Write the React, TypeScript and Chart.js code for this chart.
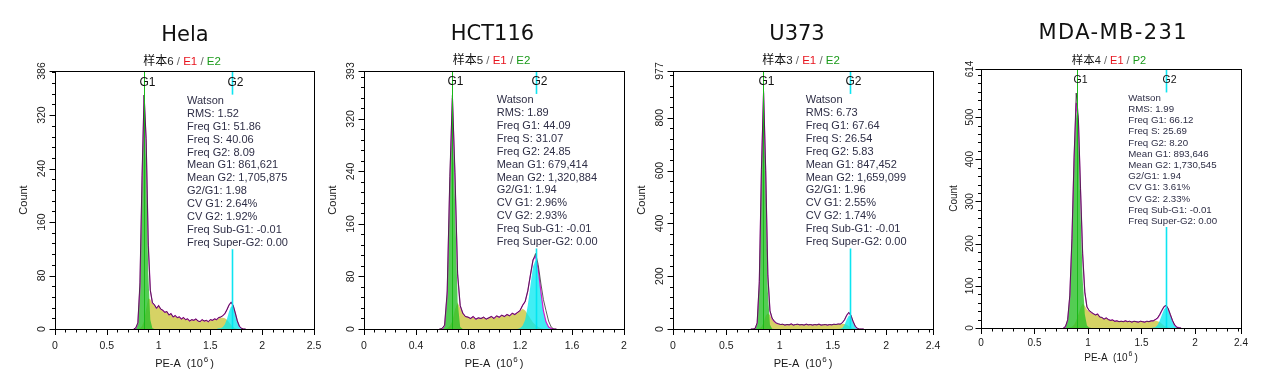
import React, { useEffect, useRef } from "react";
import { Chart, registerables } from "chart.js";

Chart.register(...registerables);

/* ======================= DATA ======================= */

/* ---- Hela ---- */
const helaBins = [
  0.76, 0.78, 0.80, 0.82, 0.84, 0.86, 0.88, 0.90, 0.92, 0.94,
  0.96, 0.98, 1.00, 1.02, 1.04, 1.06, 1.08, 1.10, 1.12, 1.14,
  1.16, 1.18, 1.20, 1.22, 1.24, 1.26, 1.28, 1.30, 1.32, 1.34,
  1.36, 1.38, 1.40, 1.42, 1.44, 1.46, 1.48, 1.50, 1.52, 1.54,
  1.56, 1.58, 1.60, 1.62, 1.64, 1.66, 1.68, 1.70, 1.72, 1.74,
  1.76, 1.78, 1.80, 1.82, 1.84,
];
const helaCounts = [
  0, 2, 10, 70, 230, 350, 285, 125, 58, 40,
  36, 31, 35, 30, 28, 25, 26, 21, 23, 18,
  20, 17, 18, 15, 17, 14, 15, 12, 14, 13,
  15, 12, 11, 14, 12, 13, 11, 14, 13, 15,
  14, 17, 18, 20, 23, 29, 36, 40, 35, 24,
  12, 4, 1, 0, 0,
];
const helaG1Fit = [
  0, 1, 8, 62, 212, 338, 248, 84, 14, 1,
  0, 0, 0, 0, 0, 0, 0, 0, 0, 0,
  0, 0, 0, 0, 0, 0, 0, 0, 0, 0,
  0, 0, 0, 0, 0, 0, 0, 0, 0, 0,
  0, 0, 0, 0, 0, 0, 0, 0, 0, 0,
  0, 0, 0, 0, 0,
];
const helaSFit = [
  0, 0, 0, 1, 4, 12, 30, 46, 44, 38,
  36, 31, 35, 30, 28, 25, 26, 21, 23, 18,
  20, 17, 18, 15, 17, 14, 15, 12, 14, 13,
  15, 12, 11, 14, 12, 13, 11, 14, 13, 15,
  14, 16, 17, 17, 16, 14, 10, 6, 3, 1,
  0, 0, 0, 0, 0,
];
const helaG2Fit = [
  0, 0, 0, 0, 0, 0, 0, 0, 0, 0,
  0, 0, 0, 0, 0, 0, 0, 0, 0, 0,
  0, 0, 0, 0, 0, 0, 0, 0, 0, 0,
  0, 0, 0, 0, 0, 0, 0, 0, 0, 0,
  0, 1, 1, 3, 7, 15, 26, 34, 32, 23,
  12, 4, 1, 0, 0,
];
const helaMeans = [0.861621, 1.705875];
const helaStats = [
  "Watson", "RMS: 1.52", "Freq G1: 51.86", "Freq S: 40.06", "Freq G2: 8.09",
  "Mean G1: 861,621", "Mean G2: 1,705,875", "G2/G1: 1.98", "CV G1: 2.64%",
  "CV G2: 1.92%", "Freq Sub-G1: -0.01", "Freq Super-G2: 0.00",
];
const helaXTicks = [0, 0.5, 1, 1.5, 2, 2.5];
const helaXTickLabels = ["0", "0.5", "1", "1.5", "2", "2.5"];
const helaYTicks = [0, 80, 160, 240, 320, 386];
const helaYTickLabels = ["0", "80", "160", "240", "320", "386"];

/* ---- HCT116 ---- */
const hctBins = [
  0.58, 0.60, 0.62, 0.64, 0.66, 0.68, 0.70, 0.72, 0.74, 0.76,
  0.78, 0.80, 0.82, 0.84, 0.86, 0.88, 0.90, 0.92, 0.94, 0.96,
  0.98, 1.00, 1.02, 1.04, 1.06, 1.08, 1.10, 1.12, 1.14, 1.16,
  1.18, 1.20, 1.22, 1.24, 1.26, 1.28, 1.30, 1.32, 1.34, 1.36,
  1.38, 1.40, 1.42, 1.44, 1.46, 1.48,
];
const hctCounts = [
  0, 1, 6, 58, 232, 356, 238, 85, 36, 24,
  19, 18, 16, 19, 15, 17, 16, 18, 15, 17,
  19, 16, 20, 18, 21, 19, 22, 20, 24, 22,
  25, 28, 36, 42, 58, 82, 105, 115, 98, 70,
  45, 28, 12, 3, 0, 0,
];
const hctG1Fit = [
  0, 0, 5, 52, 217, 340, 197, 42, 3, 0,
  0, 0, 0, 0, 0, 0, 0, 0, 0, 0,
  0, 0, 0, 0, 0, 0, 0, 0, 0, 0,
  0, 0, 0, 0, 0, 0, 0, 0, 0, 0,
  0, 0, 0, 0, 0, 0,
];
const hctSFit = [
  0, 0, 0, 1, 4, 12, 30, 40, 32, 24,
  19, 18, 16, 19, 15, 17, 16, 18, 15, 17,
  19, 16, 20, 18, 21, 19, 22, 20, 24, 22,
  25, 27, 31, 28, 22, 16, 10, 6, 3, 1,
  0, 0, 0, 0, 0, 0,
];
const hctG2Fit = [
  0, 0, 0, 0, 0, 0, 0, 0, 0, 0,
  0, 0, 0, 0, 0, 0, 0, 0, 0, 0,
  0, 0, 0, 0, 0, 0, 0, 0, 0, 0,
  0, 1, 5, 14, 36, 66, 95, 105, 88, 57,
  28, 11, 3, 1, 0, 0,
];
const hctMeans = [0.679414, 1.320884];
const hctStats = [
  "Watson", "RMS: 1.89", "Freq G1: 44.09", "Freq S: 31.07", "Freq G2: 24.85",
  "Mean G1: 679,414", "Mean G2: 1,320,884", "G2/G1: 1.94", "CV G1: 2.96%",
  "CV G2: 2.93%", "Freq Sub-G1: -0.01", "Freq Super-G2: 0.00",
];
const hctXTicks = [0, 0.4, 0.8, 1.2, 1.6, 2];
const hctXTickLabels = ["0", "0.4", "0.8", "1.2", "1.6", "2"];
const hctYTicks = [0, 80, 160, 240, 320, 393];
const hctYTickLabels = ["0", "80", "160", "240", "320", "393"];

/* ---- U373 ---- */
const u373Bins = [
  0.73, 0.75, 0.77, 0.79, 0.81, 0.83, 0.85, 0.87, 0.89, 0.91,
  0.93, 0.95, 0.97, 0.99, 1.01, 1.03, 1.05, 1.07, 1.09, 1.11,
  1.13, 1.15, 1.17, 1.19, 1.21, 1.23, 1.25, 1.27, 1.29, 1.31,
  1.33, 1.35, 1.37, 1.39, 1.41, 1.43, 1.45, 1.47, 1.49, 1.51,
  1.53, 1.55, 1.57, 1.59, 1.61, 1.63, 1.65, 1.67, 1.69, 1.71,
  1.73, 1.75, 1.77, 1.79,
];
const u373Counts = [
  0, 0, 2, 24, 180, 605, 900, 600, 205, 70,
  42, 30, 23, 20, 17, 18, 15, 17, 16, 19,
  15, 17, 18, 16, 17, 15, 18, 16, 17, 15,
  17, 16, 18, 15, 16, 17, 15, 17, 16, 18,
  17, 19, 18, 24, 35, 52, 63, 52, 29, 11,
  3, 0, 0, 0,
];
const u373G1Fit = [
  0, 0, 1, 21, 170, 590, 870, 542, 143, 16,
  1, 0, 0, 0, 0, 0, 0, 0, 0, 0,
  0, 0, 0, 0, 0, 0, 0, 0, 0, 0,
  0, 0, 0, 0, 0, 0, 0, 0, 0, 0,
  0, 0, 0, 0, 0, 0, 0, 0, 0, 0,
  0, 0, 0, 0,
];
const u373SFit = [
  0, 0, 0, 0, 2, 8, 25, 50, 60, 52,
  38, 28, 22, 19, 17, 18, 15, 17, 16, 19,
  15, 17, 18, 16, 17, 15, 18, 16, 17, 15,
  17, 16, 18, 15, 16, 17, 15, 17, 16, 18,
  17, 19, 18, 20, 19, 16, 11, 6, 3, 1,
  0, 0, 0, 0,
];
const u373G2Fit = [
  0, 0, 0, 0, 0, 0, 0, 0, 0, 0,
  0, 0, 0, 0, 0, 0, 0, 0, 0, 0,
  0, 0, 0, 0, 0, 0, 0, 0, 0, 0,
  0, 0, 0, 0, 0, 0, 0, 0, 0, 0,
  0, 0, 1, 4, 16, 36, 51, 45, 25, 9,
  2, 0, 0, 0,
];
const u373Means = [0.847452, 1.659099];
const u373Stats = [
  "Watson", "RMS: 6.73", "Freq G1: 67.64", "Freq S: 26.54", "Freq G2: 5.83",
  "Mean G1: 847,452", "Mean G2: 1,659,099", "G2/G1: 1.96", "CV G1: 2.55%",
  "CV G2: 1.74%", "Freq Sub-G1: -0.01", "Freq Super-G2: 0.00",
];
const u373XTicks = [0, 0.5, 1, 1.5, 2, 2.44];
const u373XTickLabels = ["0", "0.5", "1", "1.5", "2", "2.4"];
const u373YTicks = [0, 200, 400, 600, 800, 977];
const u373YTickLabels = ["0", "200", "400", "600", "800", "977"];

/* ---- MDA-MB-231 ---- */
const mdaBins = [
  0.77, 0.79, 0.81, 0.83, 0.85, 0.87, 0.89, 0.91, 0.93, 0.95,
  0.97, 0.99, 1.01, 1.03, 1.05, 1.07, 1.09, 1.11, 1.13, 1.15,
  1.17, 1.19, 1.21, 1.23, 1.25, 1.27, 1.29, 1.31, 1.33, 1.35,
  1.37, 1.39, 1.41, 1.43, 1.45, 1.47, 1.49, 1.51, 1.53, 1.55,
  1.57, 1.59, 1.61, 1.63, 1.65, 1.67, 1.69, 1.71, 1.73, 1.75,
  1.77, 1.79, 1.81, 1.83, 1.85, 1.87,
];
const mdaCounts = [
  0, 4, 20, 78, 212, 405, 557, 500, 330, 176,
  86, 50, 42, 38, 34, 31, 33, 26, 25, 21,
  24, 20, 18, 19, 16, 17, 15, 16, 15, 17,
  15, 16, 14, 16, 15, 14, 16, 15, 14, 16,
  15, 17, 17, 20, 24, 32, 42, 51, 54, 46,
  32, 18, 7, 2, 0, 0,
];
const mdaG1Fit = [
  0, 3, 18, 73, 206, 395, 516, 460, 281, 116,
  33, 6, 1, 0, 0, 0, 0, 0, 0, 0,
  0, 0, 0, 0, 0, 0, 0, 0, 0, 0,
  0, 0, 0, 0, 0, 0, 0, 0, 0, 0,
  0, 0, 0, 0, 0, 0, 0, 0, 0, 0,
  0, 0, 0, 0, 0, 0,
];
const mdaSFit = [
  0, 0, 0, 1, 3, 8, 18, 32, 48, 58,
  52, 44, 40, 37, 34, 31, 33, 26, 25, 21,
  24, 20, 18, 19, 16, 17, 15, 16, 15, 17,
  15, 16, 14, 16, 15, 14, 16, 15, 14, 16,
  15, 17, 16, 18, 16, 14, 10, 6, 3, 1,
  0, 0, 0, 0, 0, 0,
];
const mdaG2Fit = [
  0, 0, 0, 0, 0, 0, 0, 0, 0, 0,
  0, 0, 0, 0, 0, 0, 0, 0, 0, 0,
  0, 0, 0, 0, 0, 0, 0, 0, 0, 0,
  0, 0, 0, 0, 0, 0, 0, 0, 0, 0,
  0, 0, 1, 2, 7, 17, 31, 44, 50, 44,
  31, 17, 7, 2, 1, 0,
];
const mdaMeans = [0.893646, 1.730545];
const mdaStats = [
  "Watson", "RMS: 1.99", "Freq G1: 66.12", "Freq S: 25.69", "Freq G2: 8.20",
  "Mean G1: 893,646", "Mean G2: 1,730,545", "G2/G1: 1.94", "CV G1: 3.61%",
  "CV G2: 2.33%", "Freq Sub-G1: -0.01", "Freq Super-G2: 0.00",
];
const mdaXTicks = [0, 0.5, 1, 1.5, 2, 2.43];
const mdaXTickLabels = ["0", "0.5", "1", "1.5", "2", "2.4"];
const mdaYTicks = [0, 100, 200, 300, 400, 500, 614];
const mdaYTickLabels = ["0", "100", "200", "300", "400", "500", "614"];

/* ---- shared labels ---- */
const TITLES = ["Hela", "HCT116", "U373", "MDA-MB-231"];
const SAMPLE_NUMBERS = ["6", "5", "3", "4"];
const GATE_NAMES = [["E1", "E2"], ["E1", "E2"], ["E1", "E2"], ["E1", "P2"]];
const MARKER_LABELS = ["G1", "G2"];
const X_MAX = [2.5, 2, 2.44, 2.43];
const Y_MAX = [386, 393, 977, 614];
const X_AXIS_TITLE = "PE-A";
const X_AXIS_UNIT_BASE = "(10";
const X_AXIS_UNIT_EXP = "6";
const Y_AXIS_TITLE = "Count";
const SAMPLE_WORD = "样本";

/* ======================= STYLE / LAYOUT ======================= */
const SANS = '"Liberation Sans", Arial, sans-serif';
const TITLE_FONT = '"DejaVu Sans", sans-serif';
const CJK = '"Noto Sans CJK SC", sans-serif';

type Layout = {
  cx: number; cw: number; L: number; R: number; T: number; B: number;
  titleX: number; titleY: number; titleSize: number; titleSpacing: number;
  subX: number; subY: number; subSize: number;
  gY: number; gSize: number;
  statX: number; statY: number; statStep: number; statSize: number;
  yLabX: number; countX: number; tickSize: number;
  xLabY: number; xTitleY: number; axisSize: number;
  xMinor: number; yMinor: number;
};

const LAYOUTS: Layout[] = [
  { cx: 0, cw: 330, L: 55, R: 314, T: 71, B: 329,
    titleX: 185, titleY: 40.5, titleSize: 21, titleSpacing: 0,
    subX: 182, subY: 64.5, subSize: 11.5, gY: 86, gSize: 12,
    statX: 187, statY: 104, statStep: 12.88, statSize: 11,
    yLabX: 45, countX: 26.7, tickSize: 10.5, xLabY: 349.3, xTitleY: 366.7, axisSize: 11,
    xMinor: 0.1, yMinor: 16 },
  { cx: 316, cw: 324, L: 364, R: 624, T: 71, B: 329,
    titleX: 492.5, titleY: 39.5, titleSize: 21, titleSpacing: 0,
    subX: 491.5, subY: 64, subSize: 11.5, gY: 85, gSize: 12,
    statX: 496.7, statY: 103.3, statStep: 12.88, statSize: 11,
    yLabX: 354, countX: 336, tickSize: 10.5, xLabY: 349, xTitleY: 366.7, axisSize: 11,
    xMinor: 0.08, yMinor: 16 },
  { cx: 626, cw: 324, L: 673, R: 933, T: 71, B: 329,
    titleX: 797, titleY: 39.5, titleSize: 21, titleSpacing: 0,
    subX: 801, subY: 64, subSize: 11.5, gY: 85, gSize: 12,
    statX: 805.7, statY: 103.3, statStep: 12.88, statSize: 11,
    yLabX: 663.3, countX: 645, tickSize: 10.5, xLabY: 349, xTitleY: 366.7, axisSize: 11,
    xMinor: 0.1, yMinor: 40 },
  { cx: 936, cw: 332, L: 981, R: 1241, T: 69, B: 328,
    titleX: 1112.5, titleY: 39.3, titleSize: 21, titleSpacing: 1.4,
    subX: 1109, subY: 64, subSize: 11, gY: 82.7, gSize: 10.5,
    statX: 1128.3, statY: 100.7, statStep: 11.2, statSize: 9.7,
    yLabX: 973.3, countX: 957.3, tickSize: 10, xLabY: 345.7, xTitleY: 360.7, axisSize: 10,
    xMinor: 0.1, yMinor: 20 },
];

type PanelData = {
  bins: number[]; counts: number[]; g1: number[]; s: number[]; g2: number[];
  means: number[]; stats: string[];
  xTicks: number[]; xTickLabels: string[]; yTicks: number[]; yTickLabels: string[];
  title: string; sample: string; gates: string[]; xMax: number; yMax: number;
};

const PANELS: PanelData[] = [
  { bins: helaBins, counts: helaCounts, g1: helaG1Fit, s: helaSFit, g2: helaG2Fit,
    means: helaMeans, stats: helaStats, xTicks: helaXTicks, xTickLabels: helaXTickLabels,
    yTicks: helaYTicks, yTickLabels: helaYTickLabels, title: TITLES[0], sample: SAMPLE_NUMBERS[0],
    gates: GATE_NAMES[0], xMax: X_MAX[0], yMax: Y_MAX[0] },
  { bins: hctBins, counts: hctCounts, g1: hctG1Fit, s: hctSFit, g2: hctG2Fit,
    means: hctMeans, stats: hctStats, xTicks: hctXTicks, xTickLabels: hctXTickLabels,
    yTicks: hctYTicks, yTickLabels: hctYTickLabels, title: TITLES[1], sample: SAMPLE_NUMBERS[1],
    gates: GATE_NAMES[1], xMax: X_MAX[1], yMax: Y_MAX[1] },
  { bins: u373Bins, counts: u373Counts, g1: u373G1Fit, s: u373SFit, g2: u373G2Fit,
    means: u373Means, stats: u373Stats, xTicks: u373XTicks, xTickLabels: u373XTickLabels,
    yTicks: u373YTicks, yTickLabels: u373YTickLabels, title: TITLES[2], sample: SAMPLE_NUMBERS[2],
    gates: GATE_NAMES[2], xMax: X_MAX[2], yMax: Y_MAX[2] },
  { bins: mdaBins, counts: mdaCounts, g1: mdaG1Fit, s: mdaSFit, g2: mdaG2Fit,
    means: mdaMeans, stats: mdaStats, xTicks: mdaXTicks, xTickLabels: mdaXTickLabels,
    yTicks: mdaYTicks, yTickLabels: mdaYTickLabels, title: TITLES[3], sample: SAMPLE_NUMBERS[3],
    gates: GATE_NAMES[3], xMax: X_MAX[3], yMax: Y_MAX[3] },
];

/* ======================= DRAWING ======================= */

function makeDecorPlugin(d: PanelData, s: Layout) {
  return {
    id: "decor",
    afterDatasetsDraw(chart: any) {
      const ctx: CanvasRenderingContext2D = chart.ctx;
      const xs = chart.scales.x;
      const ys = chart.scales.y;
      const { left, right, top, bottom } = chart.chartArea;
      const ox = s.cx;
      const seg = (x1: number, y1: number, x2: number, y2: number) => {
        ctx.beginPath();
        ctx.moveTo(x1, y1);
        ctx.lineTo(x2, y2);
        ctx.stroke();
      };
      ctx.save();

      // marker lines for G1 / G2 means
      const g1x = Math.round(xs.getPixelForValue(d.means[0])) + 0.5;
      const g2x = Math.round(xs.getPixelForValue(d.means[1])) + 0.5;
      ctx.lineWidth = 1;
      ctx.strokeStyle = "#19b819";
      seg(g1x, top, g1x, bottom);
      ctx.lineWidth = 1.6;
      ctx.strokeStyle = "rgba(0,228,240,0.95)";
      seg(g2x, top, g2x, bottom);

      // statistics block with white background
      ctx.font = `${s.statSize}px ${SANS}`;
      let maxW = 0;
      for (const t of d.stats) maxW = Math.max(maxW, ctx.measureText(t).width);
      const sx = s.statX - ox;
      const firstY = s.statY;
      const lastY = s.statY + s.statStep * (d.stats.length - 1);
      ctx.fillStyle = "#ffffff";
      ctx.fillRect(sx - 1, firstY - s.statSize * 0.85, maxW + 3,
        lastY - firstY + s.statSize * 0.85 + s.statSize * 0.32);
      ctx.fillStyle = "#2e2e46";
      ctx.textAlign = "left";
      ctx.textBaseline = "alphabetic";
      d.stats.forEach((t, i) => ctx.fillText(t, sx, firstY + i * s.statStep));

      // marker labels
      ctx.font = `${s.gSize}px ${SANS}`;
      ctx.fillStyle = "#111";
      ctx.textAlign = "center";
      ctx.fillText(MARKER_LABELS[0], g1x + 3, s.gY);
      ctx.fillText(MARKER_LABELS[1], g2x + 3, s.gY);

      // plot frame
      ctx.strokeStyle = "#000";
      ctx.lineWidth = 1;
      ctx.strokeRect(left + 0.5, top + 0.5, right - left, bottom - top);

      // x ticks
      for (let k = 0; k * s.xMinor <= d.xMax + 1e-9; k++) {
        const px = Math.round(xs.getPixelForValue(k * s.xMinor)) + 0.5;
        seg(px, bottom + 1, px, bottom + 3.5);
      }
      d.xTicks.forEach((v) => {
        const px = Math.round(xs.getPixelForValue(v)) + 0.5;
        seg(px, bottom + 1, px, bottom + 6);
      });
      // y ticks
      for (let k = 0; k * s.yMinor <= d.yMax + 1e-9; k++) {
        const py = Math.round(ys.getPixelForValue(k * s.yMinor)) + 0.5;
        seg(left - 3, py, left, py);
      }
      d.yTicks.forEach((v) => {
        const py = Math.round(ys.getPixelForValue(v)) + 0.5;
        seg(left - 5.5, py, left, py);
      });

      // tick labels
      ctx.fillStyle = "#1a1a1a";
      ctx.font = `${s.tickSize}px ${SANS}`;
      ctx.textAlign = "center";
      ctx.textBaseline = "alphabetic";
      d.xTicks.forEach((v, i) => {
        ctx.fillText(d.xTickLabels[i], xs.getPixelForValue(v), s.xLabY);
      });
      d.yTicks.forEach((v, i) => {
        ctx.save();
        ctx.translate(s.yLabX - ox, ys.getPixelForValue(v));
        ctx.rotate(-Math.PI / 2);
        ctx.fillText(d.yTickLabels[i], 0, 0);
        ctx.restore();
      });

      // axis titles
      ctx.font = `${s.axisSize}px ${SANS}`;
      ctx.save();
      ctx.translate(s.countX - ox, (top + bottom) / 2);
      ctx.rotate(-Math.PI / 2);
      ctx.textAlign = "center";
      ctx.fillText(Y_AXIS_TITLE, 0, 0);
      ctx.restore();

      const mainFont = `${s.axisSize}px ${SANS}`;
      const supFont = `${Math.round(s.axisSize * 0.72)}px ${SANS}`;
      ctx.font = mainFont;
      const a = X_AXIS_TITLE;
      const b = X_AXIS_UNIT_BASE;
      const gap1 = s.axisSize * 0.55;
      const wA = ctx.measureText(a).width;
      const wB = ctx.measureText(b).width;
      const wC = ctx.measureText(")").width;
      ctx.font = supFont;
      const wS = ctx.measureText(X_AXIS_UNIT_EXP).width;
      const total = wA + gap1 + wB + 1 + wS + 2 + wC;
      let tx = (left + right) / 2 - total / 2;
      ctx.textAlign = "left";
      ctx.font = mainFont;
      ctx.fillText(a, tx, s.xTitleY);
      tx += wA + gap1;
      ctx.fillText(b, tx, s.xTitleY);
      tx += wB + 1;
      ctx.font = supFont;
      ctx.fillText(X_AXIS_UNIT_EXP, tx, s.xTitleY - s.axisSize * 0.45);
      tx += wS + 2;
      ctx.font = mainFont;
      ctx.fillText(")", tx, s.xTitleY);

      // panel title
      ctx.fillStyle = "#111";
      ctx.font = `${s.titleSize}px ${TITLE_FONT}`;
      ctx.textAlign = "center";
      (ctx as any).letterSpacing = `${s.titleSpacing}px`;
      ctx.fillText(d.title, s.titleX - ox + s.titleSpacing / 2, s.titleY);
      (ctx as any).letterSpacing = "0px";

      // subtitle: sample / gate / gate
      const segs = [
        { t: SAMPLE_WORD, f: `${s.subSize + 0.5}px ${CJK}`, c: "#111" },
        { t: d.sample, f: `${s.subSize}px ${SANS}`, c: "#222" },
        { t: " / ", f: `${s.subSize}px ${SANS}`, c: "#666" },
        { t: d.gates[0], f: `${s.subSize}px ${SANS}`, c: "#e8141e" },
        { t: " / ", f: `${s.subSize}px ${SANS}`, c: "#666" },
        { t: d.gates[1], f: `${s.subSize}px ${SANS}`, c: "#1a9a1a" },
      ];
      let sw = 0;
      const widths = segs.map((g) => {
        ctx.font = g.f;
        const w = ctx.measureText(g.t).width;
        sw += w;
        return w;
      });
      let sxp = s.subX - ox - sw / 2;
      ctx.textAlign = "left";
      segs.forEach((g, i) => {
        ctx.font = g.f;
        ctx.fillStyle = g.c;
        ctx.fillText(g.t, sxp, s.subY);
        sxp += widths[i];
      });

      ctx.restore();
    },
  };
}

function HistogramPanel({ d, s }: { d: PanelData; s: Layout }) {
  const ref = useRef<HTMLCanvasElement | null>(null);
  useEffect(() => {
    const canvas = ref.current;
    if (!canvas) return;
    const pts = (arr: number[]) => d.bins.map((x, i) => ({ x, y: arr[i] }));
    const fitPts = d.bins.map((x, i) => ({ x, y: d.g1[i] + d.s[i] + d.g2[i] }));
    const chart = new Chart(canvas, {
      type: "line",
      data: {
        datasets: [
          { label: "Data", data: pts(d.counts), borderColor: "rgba(35,30,30,0.72)", borderWidth: 1,
            fill: false, pointRadius: 0, order: 0 },
          { label: "Fit", data: fitPts, borderColor: "#d21ed2", borderWidth: 1.2,
            fill: false, pointRadius: 0, order: 1 },
          { label: "G2", data: pts(d.g2), borderColor: "rgba(0,0,0,0)", borderWidth: 0,
            backgroundColor: "rgba(0,232,240,0.75)", fill: "origin", pointRadius: 0, order: 2 },
          { label: "G1", data: pts(d.g1), borderColor: "rgba(0,0,0,0)", borderWidth: 0,
            backgroundColor: "rgba(40,192,40,0.8)", fill: "origin", pointRadius: 0, order: 3 },
          { label: "S", data: pts(d.s), borderColor: "rgba(0,0,0,0)", borderWidth: 0,
            backgroundColor: "rgba(200,195,50,0.75)", fill: "origin", pointRadius: 0, order: 4 },
        ],
      } as any,
      options: {
        responsive: false,
        animation: false,
        devicePixelRatio: 1,
        events: [],
        layout: {
          autoPadding: false,
          padding: { left: s.L - s.cx, right: s.cx + s.cw - s.R, top: s.T, bottom: 384 - s.B },
        },
        elements: { line: { tension: 0 }, point: { radius: 0 } },
        plugins: { legend: { display: false }, tooltip: { enabled: false }, title: { display: false } },
        scales: {
          x: { type: "linear", min: 0, max: d.xMax, display: false },
          y: { type: "linear", min: 0, max: d.yMax, display: false },
        },
      } as any,
      plugins: [makeDecorPlugin(d, s)],
    });
    return () => chart.destroy();
  }, [d, s]);
  return (
    <canvas
      ref={ref}
      width={s.cw}
      height={384}
      style={{ position: "absolute", left: s.cx, top: 0, width: s.cw, height: 384 }}
    />
  );
}

export default function App() {
  return (
    <div style={{ position: "absolute", left: 0, top: 0, width: 1268, height: 384, background: "#fff", overflow: "hidden" }}>
      {PANELS.map((d, i) => (
        <HistogramPanel key={i} d={d} s={LAYOUTS[i]} />
      ))}
    </div>
  );
}
